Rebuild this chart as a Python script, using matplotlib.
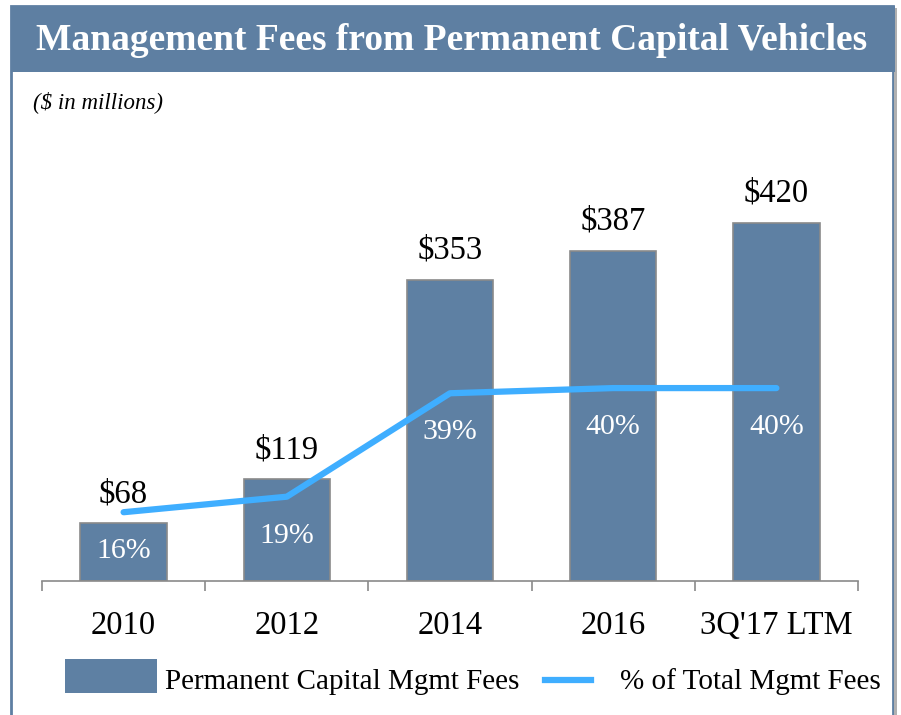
import matplotlib.pyplot as plt
from matplotlib.patches import Rectangle
from matplotlib.lines import Line2D

categories = ["2010", "2012", "2014", "2016", "3Q'17 LTM"]
fees = [68, 119, 353, 387, 420]            # $ millions
pct_total = [16, 19, 39, 40, 40]           # % of total mgmt fees

bar_color = "#5E80A3"
line_color = "#3FAEFF"
frame_color = "#5E7FA2"

plt.rcParams['font.family'] = ['Liberation Serif', 'DejaVu Serif']

fig = plt.figure(figsize=(9.01, 7.15), dpi=100)
W, H = 901, 715

# outer frame + title bar (kept behind the axes)
fig.add_artist(Rectangle((11 / W, -5 / H), 882 / W, 1 - 1 / H, transform=fig.transFigure,
                         facecolor="white", edgecolor=frame_color, lw=2, zorder=-3))
fig.add_artist(Rectangle((894 / W, 0), 3 / W, 1 - 8 / H, transform=fig.transFigure,
                         facecolor="#B0B0B0", edgecolor="none", zorder=-3))
fig.add_artist(Rectangle((11 / W, 1 - 72 / H), 884 / W, 66 / H, transform=fig.transFigure,
                         facecolor=frame_color, edgecolor="none", zorder=-2))
fig.text(452 / W, 1 - 40 / H, "Management Fees from Permanent Capital Vehicles",
         ha="center", va="center", color="white", fontsize=27, fontweight="bold")
fig.text(33 / W, 1 - 102 / H, "($ in millions)", ha="left", va="center",
         fontsize=16.5, style="italic")

# main axes: baseline at y=581 px, categories spanning x 42..858 px
ax = fig.add_axes([42 / W, 1 - 581 / H, 816 / W, (581 - 130) / H])
x = list(range(len(categories)))
ax.bar(x, fees, width=0.53, color=bar_color, edgecolor="#8A8A8A", lw=1.2, zorder=2)
ax.set_xlim(-0.5, len(categories) - 0.5)
ax.set_ylim(0, 528.7)

for xi, v in zip(x, fees):
    ax.annotate(f"${v}", (xi, v), xytext=(0, 21), textcoords="offset points",
                ha="center", va="center", fontsize=23.5)

for side in ["top", "right", "left"]:
    ax.spines[side].set_visible(False)
ax.spines["bottom"].set_color("#8A8A8A")
ax.spines["bottom"].set_linewidth(1.2)
ax.set_yticks([])
ax.set_xticks([i - 0.5 for i in range(len(categories) + 1)])
ax.set_xticklabels([])
ax.tick_params(axis="x", length=7, width=1.2, color="#8A8A8A")
ax.set_xticks(x, minor=True)
ax.set_xticklabels(categories, minor=True, fontsize=23.5)
ax.tick_params(axis="x", which="minor", length=0, pad=21)
ax.patch.set_visible(False)

# percent line on secondary scale
ax2 = ax.twinx()
ax2.set_ylim(2.7, 89.9)
ax2.plot(x, pct_total, color=line_color, lw=4.5, solid_capstyle="round",
         solid_joinstyle="round", zorder=3)
for xi, p in zip(x, pct_total):
    ax2.annotate(f"{p}%", (xi, p), xytext=(0, -28), textcoords="offset points",
                 ha="center", va="center", fontsize=21.5, color="white")
ax2.set_yticks([])
for side in ["top", "right", "left", "bottom"]:
    ax2.spines[side].set_visible(False)

# legend drawn by hand
fig.add_artist(Rectangle((65 / W, 1 - 693 / H), 92 / W, 34 / H, transform=fig.transFigure,
                         facecolor=bar_color, edgecolor="none"))
fig.text(165 / W, 1 - 682 / H, "Permanent Capital Mgmt Fees", ha="left", va="center",
         fontsize=21)
fig.add_artist(Line2D([545 / W, 591 / W], [1 - 680 / H, 1 - 680 / H], transform=fig.transFigure,
                      color=line_color, lw=4.5))
fig.text(620 / W, 1 - 682 / H, "% of Total Mgmt Fees", ha="left", va="center",
         fontsize=21)

fig.savefig("out.png", dpi=100)
